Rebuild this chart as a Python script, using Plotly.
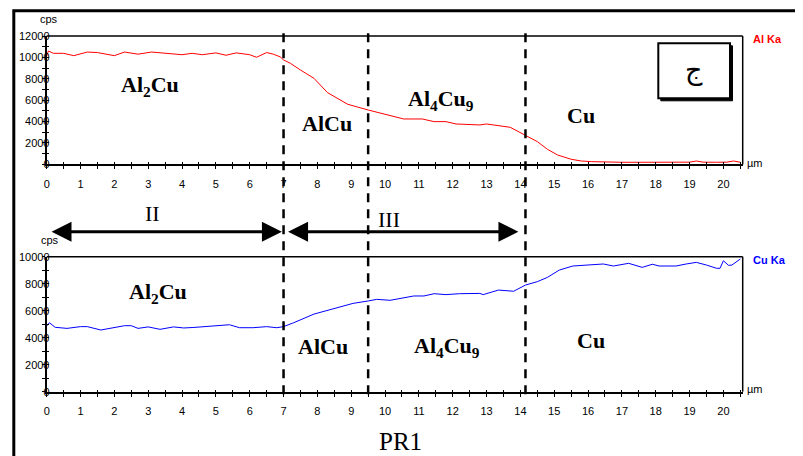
import plotly.graph_objects as go

# ---------------- data ----------------
dist_al = [0, 0.05, 0.2, 0.5, 0.8, 1.2, 1.5, 2.0, 2.3, 2.7, 3.1, 3.5, 4.0, 4.3, 4.6,
           5.0, 5.3, 5.6, 6.0, 6.2, 6.5, 6.7, 6.9, 7.0, 7.2, 7.5, 7.9, 8.3, 8.9, 9.5,
           10.15, 10.55, 11.1, 11.45, 11.8, 12.1, 12.8, 13.0, 13.7, 13.9, 14.15, 14.5,
           14.8, 15.1, 15.5, 15.8, 16.1, 16.5, 17.0, 17.5, 18.0, 18.5, 19.0, 19.2,
           19.4, 19.8, 20.1, 20.3, 20.5]
al_ka = [10130, 10600, 10380, 10380, 10160, 10500, 10450, 10160, 10500, 10300, 10500,
         10400, 10250, 10380, 10250, 10420, 10200, 10420, 10250, 10010, 10450, 10300,
         10050, 9760, 9450, 8820, 8040, 6700, 5610, 5080, 4520, 4240, 4240, 3990, 3990,
         3770, 3680, 3770, 3460, 3140, 2740, 2120, 1400, 870, 470, 310, 250, 200, 190,
         190, 190, 190, 200, 310, 200, 190, 200, 310, 190]

dist_cu = [0, 0.08, 0.25, 0.6, 1.0, 1.2, 1.6, 1.9, 2.3, 2.5, 2.7, 3.0, 3.35, 3.75, 4.05,
           4.35, 4.9, 5.4, 5.7, 6.1, 6.5, 6.8, 7.0, 7.3, 7.9, 8.5, 9.05, 9.5, 9.75, 10.15,
           10.85, 11.15, 11.45, 11.8, 12.2, 12.8, 12.9, 13.35, 13.8, 14.15, 14.5, 14.8,
           15.15, 15.55, 16.05, 16.45, 16.75, 16.95, 17.2, 17.6, 17.9, 18.1, 18.6, 18.9,
           19.2, 19.5, 19.8, 19.9, 20.0, 20.15, 20.25, 20.5]
cu_ka = [4870, 5110, 4770, 4690, 4820, 4820, 4570, 4690, 4890, 4890, 4690, 4800, 4620,
         4800, 4720, 4760, 4890, 4960, 4740, 4740, 4820, 4740, 4820, 5110, 5750, 6170,
         6540, 6720, 6840, 6770, 7090, 7090, 7260, 7190, 7260, 7280, 7190, 7530, 7440,
         7900, 8150, 8470, 9010, 9310, 9380, 9460, 9310, 9380, 9510, 9210, 9440, 9310,
         9310, 9460, 9580, 9380, 9140, 9140, 9700, 9360, 9380, 9830]

boundaries = [7.0, 9.5, 14.15]           # phase boundaries (um)
zone_II = [0.1, 6.95]                    # arrow II extent (um)
zone_III = [7.09, 13.94]                 # arrow III extent (um)

top_labels = ["Al<sub>2</sub>Cu", "AlCu", "Al<sub>4</sub>Cu<sub>9</sub>", "Cu"]
top_label_x = [3.05, 8.28, 11.66, 15.78]
top_label_y = [7320, 3860, 6010, 4610]
bot_labels = ["Al<sub>2</sub>Cu", "AlCu", "Al<sub>4</sub>Cu<sub>9</sub>", "Cu"]
bot_label_x = [3.29, 8.17, 11.82, 16.08]
bot_label_y = [7310, 3330, 3330, 3780]

X_RANGE = [0, 20.57]

# ---------------- layout geometry ----------------
W, H = 803, 456
OFF = 8  # page body margin offset of the figure div
def px(x): return (x - OFF) / W
def py(y): return 1 - (y - OFF) / H

X_DOM = [px(46.7), px(742.7)]
TOP_DOM = [py(164.3), py(36)]
BOT_DOM = [py(391.7), py(256.7)]

SANS = "Liberation Sans"
SERIF = "Liberation Serif"
tickfont = dict(family=SANS, size=11, color="black")

fig = go.Figure()
fig.add_trace(go.Scatter(x=dist_al, y=al_ka, mode="lines", line=dict(color="#FF0000", width=1),
                         xaxis="x", yaxis="y", showlegend=False, hoverinfo="skip"))
fig.add_trace(go.Scatter(x=dist_cu, y=cu_ka, mode="lines", line=dict(color="#0000FF", width=1),
                         xaxis="x2", yaxis="y2", showlegend=False, hoverinfo="skip"))
# dummy traces for overlay axes (inside half of crossing ticks)
fig.add_trace(go.Scatter(x=[None], y=[None], xaxis="x3", yaxis="y3", showlegend=False, hoverinfo="skip"))
fig.add_trace(go.Scatter(x=[None], y=[None], xaxis="x4", yaxis="y4", showlegend=False, hoverinfo="skip"))

def xax(anchor, **kw):
    d = dict(domain=X_DOM, anchor=anchor, range=X_RANGE, showline=True, linecolor="black",
             linewidth=2, ticks="outside", ticklen=3, tickwidth=1, tickcolor="black",
             tickmode="linear", tick0=0, dtick=1, showgrid=False, zeroline=False,
             minor=dict(dtick=0.5, ticks="outside", ticklen=3, tickwidth=1, tickcolor="black"),
             tickfont=tickfont, ticklabelstandoff=5)
    d.update(kw)
    return d

def yax(anchor, dom, rng, **kw):
    d = dict(domain=dom, anchor=anchor, range=rng, showline=True, linecolor="black",
             linewidth=2, ticks="outside", ticklen=3, tickwidth=1, tickcolor="black",
             tickmode="linear", tick0=0, dtick=2000, tickformat="d", showgrid=False,
             zeroline=False,
             minor=dict(dtick=1000, ticks="outside", ticklen=3, tickwidth=1, tickcolor="black"),
             tickfont=tickfont, ticklabelstandoff=-10)
    d.update(kw)
    return d

def overlay_x(base, anchor):
    return dict(overlaying=base, anchor=anchor, range=X_RANGE, showline=False, ticks="inside",
                ticklen=2, tickwidth=1, tickcolor="black", tickmode="linear", tick0=0, dtick=1,
                showticklabels=False, showgrid=False, zeroline=False,
                minor=dict(dtick=0.5, ticks="inside", ticklen=2, tickwidth=1, tickcolor="black"))

def overlay_y(base, anchor, rng):
    return dict(overlaying=base, anchor=anchor, range=rng, showline=False, ticks="inside",
                ticklen=2, tickwidth=1, tickcolor="black", tickmode="linear", tick0=0, dtick=2000,
                showticklabels=False, showgrid=False, zeroline=False,
                minor=dict(dtick=1000, ticks="inside", ticklen=2, tickwidth=1, tickcolor="black"))

fig.update_layout(
    width=W, height=H, margin=dict(l=0, r=0, t=0, b=0, autoexpand=False),
    paper_bgcolor="white", plot_bgcolor="rgba(0,0,0,0)",
    xaxis=xax("y"), yaxis=yax("x", TOP_DOM, [0, 12000]),
    xaxis2=xax("y2"), yaxis2=yax("x2", BOT_DOM, [0, 10000]),
    xaxis3=overlay_x("x", "y3"), yaxis3=overlay_y("y", "x3", [0, 12000]),
    xaxis4=overlay_x("x2", "y4"), yaxis4=overlay_y("y2", "x4", [0, 10000]),
)

shapes = []
# top + right box lines of both panels
for xr, yr in [("x domain", "y domain"), ("x2 domain", "y2 domain")]:
    shapes.append(dict(type="line", xref=xr, yref=yr, x0=0, x1=1, y0=1, y1=1,
                       line=dict(color="black", width=1.5)))
    shapes.append(dict(type="line", xref=xr, yref=yr, x0=1, x1=1, y0=0, y1=1,
                       line=dict(color="black", width=1.5)))
# dashed phase boundaries spanning both panels
for b in boundaries:
    shapes.append(dict(type="line", xref="x", yref="paper", x0=b, x1=b, y0=py(33.3), y1=py(395),
                       line=dict(color="black", width=2.5, dash="9px,7px")))
# outer frame
shapes.append(dict(type="rect", xref="paper", yref="paper", x0=px(13.8), x1=1.1, y0=-0.1,
                   y1=py(10.7), line=dict(color="black", width=3)))
# boxed letter with shadow
shapes.append(dict(type="rect", xref="paper", yref="paper", x0=px(660.8), x1=px(732.5),
                   y0=py(100.8), y1=py(45.8), fillcolor="black", line=dict(color="black", width=1)))
shapes.append(dict(type="rect", xref="paper", yref="paper", x0=px(658.3), x1=px(730),
                   y0=py(98.3), y1=py(43.3), fillcolor="white", line=dict(color="black", width=2)))
fig.update_layout(shapes=shapes)

ann = []
lab_font = dict(family=SERIF, size=22, color="black")
for t, x, y in zip(top_labels, top_label_x, top_label_y):
    ann.append(dict(text="<b>%s</b>" % t, x=x, y=y, xref="x", yref="y", showarrow=False,
                    xanchor="center", yanchor="middle", font=lab_font))
for t, x, y in zip(bot_labels, bot_label_x, bot_label_y):
    ann.append(dict(text="<b>%s</b>" % t, x=x, y=y, xref="x2", yref="y2", showarrow=False,
                    xanchor="center", yanchor="middle", font=lab_font))

def ptext(text, x, y, font, xanchor="center"):
    return dict(text=text, x=px(x), y=py(y), xref="paper", yref="paper", showarrow=False,
                xanchor=xanchor, yanchor="middle", font=font)

ann += [
    ptext("cps", 48.7, 19.3, tickfont),
    ptext("cps", 49.7, 240, tickfont),
    ptext("µm", 745, 162.7, tickfont, "left"),
    ptext("µm", 745, 389.3, tickfont, "left"),
    ptext("<b>Al Ka</b>", 750.7, 39, dict(family=SANS, size=11, color="#FF0000"), "left"),
    ptext("<b>Cu Ka</b>", 750.7, 260, dict(family=SANS, size=11, color="#0000FF"), "left"),
    ptext("ج", 694, 70, dict(family="DejaVu Sans", size=27, color="black")),
    ptext("PR1", 400, 441.7, dict(family=SERIF, size=25, color="black")),
    dict(text="II", x=(zone_II[0] + zone_II[1]) / 2 - 0.4, y=py(214), xref="x", yref="paper",
         xanchor="center", yanchor="middle", showarrow=False,
         font=dict(family=SERIF, size=22, color="black")),
    dict(text="III", x=(zone_III[0] + zone_III[1]) / 2 - 0.4, y=py(219), xref="x", yref="paper",
         xanchor="center", yanchor="middle", showarrow=False,
         font=dict(family=SERIF, size=22, color="black")),
]
# double-headed arrows
for z in (zone_II, zone_III):
    ann.append(dict(text="", x=z[1], y=py(231.7), xref="x", yref="paper", ax=z[0], ay=0,
                    axref="x", ayref="pixel", showarrow=True, arrowhead=2, startarrowhead=2,
                    arrowside="end+start", arrowwidth=3, arrowsize=1.33, startarrowsize=1.33,
                    arrowcolor="black"))
fig.update_layout(annotations=ann)

fig.write_html("out.html")
